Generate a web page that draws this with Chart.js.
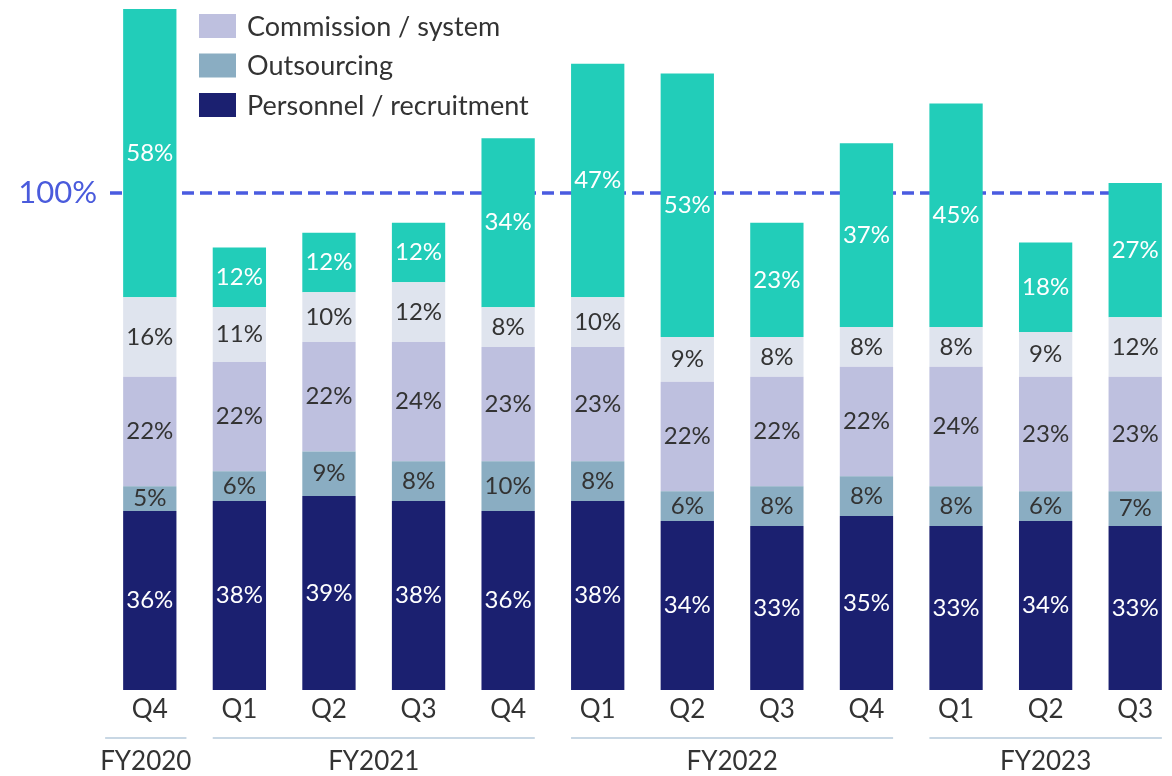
<!DOCTYPE html>
<html><head><meta charset="utf-8">
<script src="https://cdn.jsdelivr.net/npm/chart.js@4/dist/chart.umd.min.js"></script>
<style>html,body{margin:0;padding:0;overflow:hidden;background:#fff}#wrap{position:relative;width:1180px;height:776px}</style>
</head><body><div id="wrap"><canvas id="c"></canvas></div>
<script>
const quarters = ['Q4','Q1','Q2','Q3','Q4','Q1','Q2','Q3','Q4','Q1','Q2','Q3'];
const fiscalYears = ['FY2020','FY2021','FY2022','FY2023'];
const fiscalYearRanges = [[0,0],[1,4],[5,8],[9,11]];
const personnel   = [36,38,39,38,36,38,34,33,35,33,34,33];
const outsourcing = [5,6,9,8,10,8,6,8,8,8,6,7];
const commission  = [22,22,22,24,23,23,22,22,22,24,23,23];
const other       = [16,11,10,12,8,10,9,8,8,8,9,12];
const remaining   = [58,12,12,12,34,47,53,23,37,45,18,27];
const referenceValue = 100;
const yTickValues = [100];
const legendNames = ['Commission / system','Outsourcing','Personnel / recruitment'];

const FONT = 'Lato, "Noto Sans", sans-serif';
const colors = {
  personnel:'#1b2070', outsourcing:'#8aadc2', commission:'#bec0df', other:'#dfe4ee', remaining:'#22cdb9'
};

const datasets = [
  {label:'Personnel / recruitment', data:personnel, backgroundColor:colors.personnel, textColor:'#ffffff'},
  {label:'Outsourcing', data:outsourcing, backgroundColor:colors.outsourcing, textColor:'#333333'},
  {label:'Commission / system', data:commission, backgroundColor:colors.commission, textColor:'#333333'},
  {label:'Other', data:other, backgroundColor:colors.other, textColor:'#333333'},
  {label:'Remaining', data:remaining, backgroundColor:colors.remaining, textColor:'#ffffff'}
].map(d => Object.assign(d, {borderWidth:0, categoryPercentage:1, barPercentage:0.595}));

const refLine = {
  id:'refLine',
  beforeDatasetsDraw(chart){
    const {ctx, scales:{y}, chartArea} = chart;
    const py = y.getPixelForValue(referenceValue);
    ctx.save();
    ctx.strokeStyle = '#4a5be0';
    ctx.lineWidth = 3.5;
    ctx.setLineDash([12,6]);
    ctx.beginPath();
    ctx.moveTo(chartArea.left + 5, py);
    ctx.lineTo(chartArea.right - 20, py);
    ctx.stroke();
    ctx.restore();
  }
};

const valueLabels = {
  id:'valueLabels',
  afterDatasetsDraw(chart){
    const ctx = chart.ctx;
    ctx.save();
    ctx.font = '24px ' + FONT;
    ctx.textAlign = 'center';
    ctx.textBaseline = 'middle';
    chart.data.datasets.forEach((ds, i) => {
      const meta = chart.getDatasetMeta(i);
      ctx.fillStyle = ds.textColor;
      meta.data.forEach((bar, j) => {
        const cy = (bar.y + bar.base) / 2;
        ctx.fillText(ds.data[j] + '%', bar.x, cy);
      });
    });
    ctx.restore();
  }
};

const groupsAndLegend = {
  id:'groupsAndLegend',
  afterDraw(chart){
    const ctx = chart.ctx;
    const meta = chart.getDatasetMeta(0);
    ctx.save();
    fiscalYearRanges.forEach((r, i) => {
      const b0 = meta.data[r[0]], b1 = meta.data[r[1]];
      let s = b0.x - b0.width/2, e = b1.x + b1.width/2;
      if (r[0] === r[1]) { s -= 18; e += 10; }
      ctx.strokeStyle = '#c8d7e4';
      ctx.lineWidth = 2;
      ctx.beginPath(); ctx.moveTo(s, 738); ctx.lineTo(e, 738); ctx.stroke();
      ctx.fillStyle = '#333333';
      ctx.font = '26px ' + FONT;
      ctx.textAlign = 'center'; ctx.textBaseline = 'middle';
      ctx.fillText(fiscalYears[i], (s+e)/2, 762);
    });
    const legendColors = [colors.commission, colors.outsourcing, colors.personnel];
    const rows = [26, 65.5, 105];
    ctx.font = '27px ' + FONT;
    ctx.textAlign = 'left'; ctx.textBaseline = 'middle';
    legendNames.forEach((n, i) => {
      ctx.fillStyle = legendColors[i];
      ctx.fillRect(199, rows[i] - 12, 37, 24);
      ctx.fillStyle = '#333333';
      ctx.fillText(n, 247, rows[i] + 1);
    });
    ctx.restore();
  }
};

new Chart(document.getElementById('c'), {
  type:'bar',
  data:{labels:quarters, datasets},
  options:{
    responsive:true, maintainAspectRatio:false, animation:false,
    layout:{padding:{top:0, bottom:50, left:0, right:0}},
    plugins:{legend:{display:false}, tooltip:{enabled:false}},
    scales:{
      x:{stacked:true, grid:{display:false, drawTicks:false}, border:{display:false},
         ticks:{font:{family:FONT, size:26}, color:'#333333', padding:4, maxRotation:0, autoSkip:false},
         afterFit(s){ s.height = 36; s.paddingLeft = 0; s.paddingRight = 0; }},
      y:{stacked:true, min:0, max:138.8, grid:{display:false, drawTicks:false}, border:{display:false},
         afterBuildTicks(s){ s.ticks = yTickValues.map(v => ({value:v})); },
         ticks:{font:{family:FONT, size:31}, color:'#4a5bdc', padding:8, callback:v => v + '%'},
         afterFit(s){ s.width = 105; s.paddingTop = 0; s.paddingBottom = 0; }}
    }
  },
  plugins:[refLine, valueLabels, groupsAndLegend]
});
</script>
</body></html>
